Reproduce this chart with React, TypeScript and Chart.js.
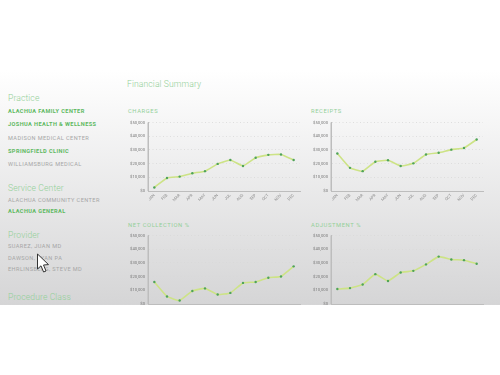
import React, { useEffect, useRef } from "react";
import { Chart, registerables } from "chart.js";

Chart.register(...registerables);

const months = ["JAN", "FEB", "MAR", "APR", "MAY", "JUN", "JUL", "AUG", "SEP", "OCT", "NOV", "DEC"];
const charges = [2600, 9500, 10500, 13000, 14500, 19800, 22600, 18300, 24300, 26400, 26700, 22600];
const receipts = [27400, 16900, 14500, 21400, 22400, 18300, 20200, 26700, 27900, 30200, 31400, 37600];
const netCollection = [16100, 5500, 2600, 9500, 11400, 6900, 8100, 15400, 16100, 19200, 20100, 27500];
const adjustment = [10900, 11600, 14200, 21800, 16800, 23000, 24200, 28900, 34600, 32500, 32000, 29400];

const practice = [
  ["ALACHUA FAMILY CENTER", 1],
  ["JOSHUA HEALTH & WELLNESS", 1],
  ["MADISON MEDICAL CENTER", 0],
  ["SPRINGFIELD CLINIC", 1],
  ["WILLIAMSBURG MEDICAL", 0],
] as const;
const serviceCenter = [
  ["ALACHUA COMMUNITY CENTER", 0],
  ["ALACHUA GENERAL", 1],
] as const;
const provider = [
  ["SUAREZ, JUAN MD", 0],
  ["DAWSON, RYAN PA", 0],
  ["EHRLINSBERG, STEVE MD", 0],
] as const;

const FONT = "Roboto, 'Open Sans', sans-serif";
const GREEN = "#5cb85f";
const PALE = "#93d098";
const GREY = "#a6a6a6";

function LineChart({ values, left, top }: { values: number[]; left: number; top: number }) {
  const ref = useRef<HTMLCanvasElement>(null);
  useEffect(() => {
    const chart = new Chart(ref.current!, {
      type: "line",
      data: {
        labels: months,
        datasets: [
          {
            data: values,
            borderColor: "#cde386",
            borderWidth: 1.6,
            tension: 0.12,
            pointRadius: 1.2,
            pointBackgroundColor: "#4fa35a",
            pointBorderWidth: 0,
            clip: false,
          },
        ],
      },
      options: {
        animation: false,
        responsive: false,
        plugins: { legend: { display: false }, tooltip: { enabled: false } },
        layout: { padding: { top: 4, right: 0, left: 0, bottom: 0 } },
        scales: {
          x: {
            offset: true,
            afterFit: (s: any) => { s.height = 18; s.paddingLeft = 0; s.paddingRight = 0; },
            grid: { display: false, drawTicks: false },
            border: { color: "#bdbdbd", width: 1 },
            ticks: {
              autoSkip: false,
              minRotation: 45,
              maxRotation: 45,
              padding: 2,
              color: "#8a8a8a",
              font: { family: FONT, size: 4 },
            },
          },
          y: {
            min: 0,
            max: 50000,
            afterFit: (s: any) => { s.width = 30; },
            grid: {
              color: "#d8d8d8",
              lineWidth: 0.8,
              drawTicks: false,
            },
            border: { color: "#bdbdbd", width: 1, dash: [1, 2.5] },
            ticks: {
              stepSize: 10000,
              padding: 3,
              color: "#777",
              font: { family: FONT, size: 4.2 },
              callback: (v: any) => "$" + Number(v).toLocaleString("en-US"),
            },
          },
        },
      },
      plugins: [
        {
          id: "solidAxis",
          afterDraw(c: any) {
            const { ctx, chartArea: a } = c;
            ctx.save();
            ctx.strokeStyle = "#bdbdbd";
            ctx.lineWidth = 1;
            ctx.beginPath();
            ctx.moveTo(a.left, a.top);
            ctx.lineTo(a.left, a.bottom);
            ctx.stroke();
            ctx.restore();
          },
        },
      ],
    } as any);
    return () => chart.destroy();
  }, [values]);
  return (
    <canvas
      ref={ref}
      width={186}
      height={92}
      style={{ position: "absolute", left, top, width: 186, height: 92, display: "block" }}
    />
  );
}

function Txt({ x, y, size, color, weight = 400, spacing = 0, children }: any) {
  return (
    <div
      style={{
        position: "absolute",
        left: x,
        top: y + 0.5,
        transform: "translateY(-50%)",
        fontFamily: FONT,
        fontSize: size,
        color,
        fontWeight: weight,
        letterSpacing: spacing,
        whiteSpace: "nowrap",
        lineHeight: 1,
      }}
    >
      {children}
    </div>
  );
}

function Items({ rows, ys }: { rows: readonly (readonly [string, number])[]; ys: number[] }) {
  return (
    <>
      {rows.map((r, i) => (
        <Txt key={r[0]} x={8} y={ys[i]} size={5.6} spacing={0.42} weight={r[1] ? 700 : 400} color={r[1] ? GREEN : GREY}>
          {r[0]}
        </Txt>
      ))}
    </>
  );
}

export default function App() {
  return (
    <div style={{ position: "absolute", left: 0, top: 0, width: 500, height: 375, background: "#fff", overflow: "hidden", filter: "blur(0.35px)" }}>
      <div
        style={{
          position: "absolute",
          left: 0,
          top: 0,
          width: 500,
          height: 305,
          overflow: "hidden",
          background: "linear-gradient(to bottom, #ffffff 0px, #ffffff 70px, #d5d5d6 305px)",
        }}
      >
        <Txt x={127} y={83} size={8.6} color={PALE} weight={300} spacing={0.1}>Financial Summary</Txt>
        <Txt x={8} y={97} size={8.6} color={PALE} weight={300} spacing={0.1}>Practice</Txt>
        <Items rows={practice} ys={[111, 124.5, 138, 151, 164]} />
        <Txt x={8} y={187} size={8.6} color={PALE} weight={300} spacing={0.1}>Service Center</Txt>
        <Items rows={serviceCenter} ys={[200, 211.5]} />
        <Txt x={8} y={234} size={8.6} color={PALE} weight={300} spacing={0.1}>Provider</Txt>
        <Items rows={provider} ys={[246.5, 258, 269.5]} />
        <Txt x={8} y={296.5} size={8.6} color={PALE} weight={300} spacing={0.1}>Procedure Class</Txt>

        <Txt x={128} y={111} size={5.8} color={PALE} spacing={0.6}>CHARGES</Txt>
        <Txt x={311} y={111} size={5.8} color={PALE} spacing={0.6}>RECEIPTS</Txt>
        <Txt x={128} y={225} size={5.8} color={PALE} spacing={0.6}>NET COLLECTION %</Txt>
        <Txt x={311} y={225} size={5.8} color={PALE} spacing={0.6}>ADJUSTMENT %</Txt>

        <LineChart values={charges} left={118} top={117} />
        <LineChart values={receipts} left={301} top={117} />
        <LineChart values={netCollection} left={118} top={230} />
        <LineChart values={adjustment} left={301} top={230} />

        <svg style={{ position: "absolute", left: 36, top: 253 }} width={14} height={21} viewBox="0 0 14 21">
          <path d="M1.5 1 L1.5 16 L5 12.8 L7.6 19 L10 18 L7.5 12 L12.5 11.6 Z" fill="#fff" stroke="#333" strokeWidth={1} />
        </svg>
      </div>
    </div>
  );
}
